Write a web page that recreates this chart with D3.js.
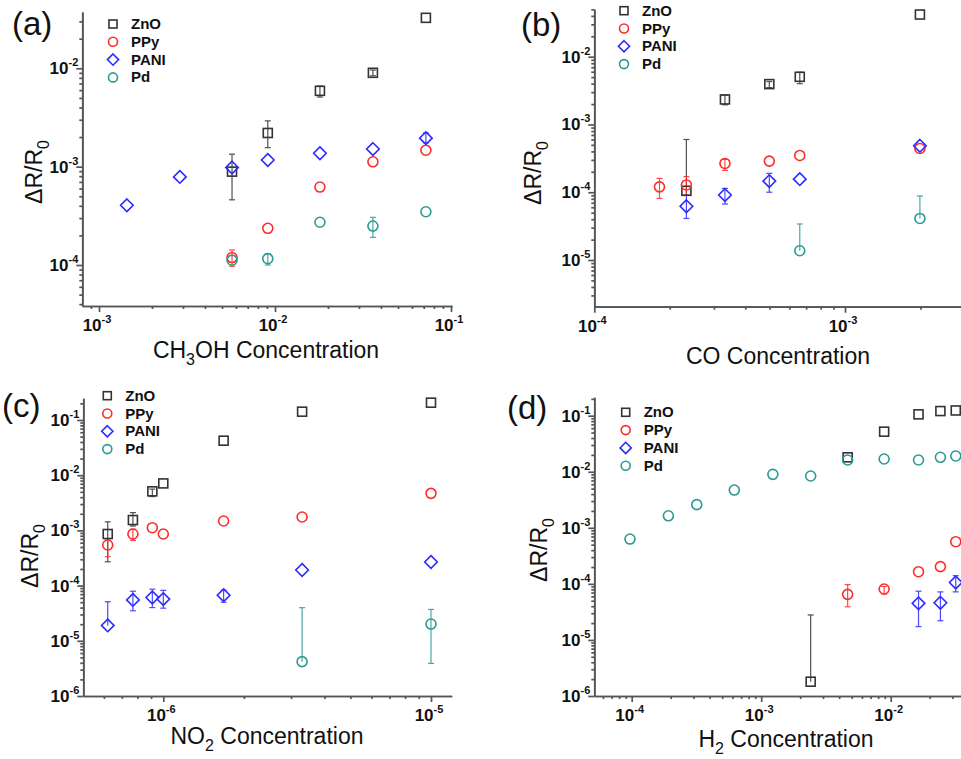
<!DOCTYPE html>
<html>
<head>
<meta charset="utf-8">
<script src="https://cdn.jsdelivr.net/npm/d3@7"></script>
<style>
  body { margin: 0; background: #fff; }
  svg { display: block; }
  text { font-family: "Liberation Sans", Arial, sans-serif; fill: #111; }
</style>
</head>
<body>
<svg id="fig" width="961" height="759"></svg>
<script>
// ---- data (null = no point) ----
// (a) CH3OH
var concA = [0.00144, 0.00288, 0.0057, 0.0091, 0.018, 0.036, 0.072];
var znoA  = [null, null, 8.9e-4, 2.2e-3, 5.9e-3, 9.0e-3, 0.0326];
var znoA_err = [null, null, [4.6e-4, 1.34e-3], [1.56e-3, 2.92e-3], [5.1e-3, 6.6e-3], [8.4e-3, 9.6e-3], null];
var ppyA  = [null, null, 1.19e-4, 2.36e-4, 6.2e-4, 1.12e-3, 1.47e-3];
var ppyA_err = [null, null, [9.7e-5, 1.42e-4], null, null, null, null];
var paniA = [4.05e-4, 7.86e-4, 9.8e-4, 1.17e-3, 1.37e-3, 1.51e-3, 1.95e-3];
var paniA_err = [null, null, null, null, null, null, [1.75e-3, 2.2e-3]];
var pdA   = [null, null, 1.12e-4, 1.16e-4, 2.72e-4, 2.49e-4, 3.48e-4];
var pdA_err = [null, null, null, [1.0e-4, 1.3e-4], null, [1.91e-4, 3.05e-4], null];

// (b) CO
var concB = [1.82e-4, 2.33e-4, 3.32e-4, 4.99e-4, 6.6e-4, 1.99e-3];
var znoB  = [null, 1.05e-4, 2.34e-3, 3.94e-3, 5.05e-3, 0.0419];
var znoB_err = [null, [9e-5, 6.0e-4], [1.95e-3, 2.7e-3], [3.5e-3, 4.3e-3], [4.0e-3, 5.9e-3], null];
var ppyB  = [1.2e-4, 1.28e-4, 2.66e-4, 2.88e-4, 3.49e-4, 4.43e-4];
var ppyB_err = [[8.1e-5, 1.6e-4], [9e-5, 1.7e-4], [2.1e-4, 3.05e-4], null, null, null];
var paniB = [null, 6.2e-5, 9.1e-5, 1.46e-4, 1.56e-4, 4.85e-4];
var paniB_err = [null, [4.1e-5, 9e-5], [6.7e-5, 1.14e-4], [1.0e-4, 1.9e-4], null, null];
var pdB   = [null, null, null, null, 1.37e-5, 4.1e-5];
var pdB_err = [null, null, null, null, [1.37e-5, 3.4e-5], [4.1e-5, 8.8e-5]];

// (c) NO2
var concC = [6.2e-7, 7.7e-7, 9.1e-7, 1.0e-6, 1.68e-6, 3.3e-6, 1.0e-5];
var znoC  = [8.6e-4, 1.54e-3, 5.1e-3, 7.1e-3, 0.0422, 0.1415, 0.206];
var znoC_err = [[2.7e-4, 1.43e-3], [1.2e-3, 2.1e-3], [4.1e-3, 5.6e-3], null, null, null, null];
var ppyC  = [5.44e-4, 8.6e-4, 1.12e-3, 8.6e-4, 1.48e-3, 1.75e-3, 4.69e-3];
var ppyC_err = [[3.34e-4, 7e-4], [6.6e-4, 1.05e-3], null, null, null, null, null];
var paniC = [1.9e-5, 5.5e-5, 6.1e-5, 5.7e-5, 6.7e-5, 1.92e-4, 2.68e-4];
var paniC_err = [[1.9e-5, 5.1e-5], [3.5e-5, 7.9e-5], [4.0e-5, 8.6e-5], [3.9e-5, 8.2e-5], [5.0e-5, 8.2e-5], null, null];
var pdC   = [null, null, null, null, null, 4.19e-6, 2.01e-5];
var pdC_err = [null, null, null, null, null, [4.19e-6, 3.98e-5], [3.9e-6, 3.7e-5]];

// (d) H2
var concD = [9.7e-5, 1.92e-4, 3.18e-4, 6.2e-4, 1.23e-3, 2.41e-3, 4.65e-3, 8.9e-3, 0.0164, 0.0242, 0.0318];
var znoD  = [null, null, null, null, null, 1.8e-6, 0.0181, 0.0519, 0.1057, 0.121, 0.124];
var znoD_err = [null, null, null, null, null, [1.8e-6, 2.79e-5], null, null, null, null, null];
var ppyD  = [null, null, null, null, null, null, 6.5e-5, 8.1e-5, 1.65e-4, 2.03e-4, 5.66e-4];
var ppyD_err = [null, null, null, null, null, null, [3.9e-5, 9.7e-5], [6.6e-5, 9.0e-5], null, null, null];
var paniD = [null, null, null, null, null, null, null, null, 4.5e-5, 4.6e-5, 1.06e-4];
var paniD_err = [null, null, null, null, null, null, null, null, [1.73e-5, 7.4e-5], [2.2e-5, 7.2e-5], [7.2e-5, 1.4e-4]];
var pdD   = [6.3e-4, 1.64e-3, 2.59e-3, 4.72e-3, 9.0e-3, 8.4e-3, 0.0162, 0.0169, 0.0162, 0.0181, 0.0191];

var seriesNames = ["ZnO", "PPy", "PANI", "Pd"];
var colors = {ZnO: "#333333", PPy: "#ff2b2b", PANI: "#2b2bff", Pd: "#2a9a94"};

var svg = d3.select("#fig");

// log scale pinned by two decade positions, then stretched to the axis ends
function logScale(v1, p1, v2, p2, pMin, pMax) {
  var s = d3.scaleLog().domain([v1, v2]).range([p1, p2]);
  return d3.scaleLog().domain([s.invert(pMin), s.invert(pMax)]).range([pMin, pMax]);
}

function tickSets(scale) {
  var d = scale.domain(), lo = Math.min(d[0], d[1]), hi = Math.max(d[0], d[1]);
  var major = [], minor = [];
  for (var e = Math.floor(Math.log10(lo)); e <= Math.ceil(Math.log10(hi)); e++) {
    for (var k = 1; k <= 9; k++) {
      var v = k * Math.pow(10, e);
      if (v < lo * 0.999 || v > hi * 1.001) continue;
      if (k == 1) major.push(v); else minor.push(v);
    }
  }
  return {major: major, minor: minor};
}

function drawSym(g, name, cx, cy, s) {
  var c = colors[name];
  if (name == "ZnO") {
    g.append("rect").attr("x", cx - s / 2).attr("y", cy - s / 2)
      .attr("width", s).attr("height", s)
      .attr("fill", "none").attr("stroke", c).attr("stroke-width", 1.6);
  } else if (name == "PANI") {
    var h = s * 0.7;
    g.append("path")
      .attr("d", "M" + cx + "," + (cy - h) + "L" + (cx + h) + "," + cy + "L" + cx + "," + (cy + h) + "L" + (cx - h) + "," + cy + "Z")
      .attr("fill", "none").attr("stroke", c).attr("stroke-width", 1.6);
  } else {
    g.append("circle").attr("cx", cx).attr("cy", cy).attr("r", s / 2 + 0.5)
      .attr("fill", "none").attr("stroke", c).attr("stroke-width", 1.6);
  }
}

function panel(p) {
  var g = svg.append("g");
  var x = logScale(p.xa[0], p.xa[1], p.xa[2], p.xa[3], p.xr[0], p.xr[1]);
  var y = logScale(p.ya[0], p.ya[1], p.ya[2], p.ya[3], p.yr[1], p.yr[0]);
  var x0 = p.xr[0], y0 = p.yr[1];

  var xt = tickSets(x), yt = tickSets(y);

  // axes: minor ticks, then major ticks with the axis line
  function styleAxis(sel) {
    sel.selectAll("path, line").attr("stroke", "#555").attr("stroke-width", 1.7);
  }
  g.append("g").attr("transform", "translate(0," + y0 + ")")
    .call(d3.axisBottom(x).tickValues(xt.minor).tickSize(3).tickSizeOuter(0).tickFormat(""))
    .call(styleAxis);
  g.append("g").attr("transform", "translate(0," + y0 + ")")
    .call(d3.axisBottom(x).tickValues(xt.major).tickSize(6).tickSizeOuter(0).tickFormat(""))
    .call(styleAxis);
  g.append("g").attr("transform", "translate(" + x0 + ",0)")
    .call(d3.axisLeft(y).tickValues(yt.minor).tickSize(3).tickSizeOuter(0).tickFormat(""))
    .call(styleAxis);
  g.append("g").attr("transform", "translate(" + x0 + ",0)")
    .call(d3.axisLeft(y).tickValues(yt.major).tickSize(6).tickSizeOuter(0).tickFormat(""))
    .call(styleAxis);

  // tick labels 10^n
  xt.major.forEach(function(v) {
    var t = g.append("text").attr("x", x(v) - 2).attr("y", y0 + 25)
      .attr("text-anchor", "middle").style("font-weight", "bold").style("font-size", "17px");
    t.append("tspan").text("10");
    t.append("tspan").attr("dy", -8).style("font-size", "11px").text(Math.round(Math.log10(v)));
  });
  yt.major.forEach(function(v) {
    var t = g.append("text").attr("x", x0 - 4).attr("y", y(v) + 6)
      .attr("text-anchor", "end").style("font-weight", "bold").style("font-size", "17px");
    t.append("tspan").text("10");
    t.append("tspan").attr("dy", -8).style("font-size", "11px").text(Math.round(Math.log10(v)));
  });

  // axis titles
  var xt1 = g.append("text").attr("x", p.xTitle[0]).attr("y", p.xTitle[1])
    .attr("text-anchor", "middle").style("font-size", "23px");
  xt1.append("tspan").text(p.xName[0]);
  if (p.xName[1]) {
    xt1.append("tspan").attr("dy", 7).style("font-size", "16px").text(p.xName[1]);
    xt1.append("tspan").attr("dy", -7).text(p.xName[2]);
  }
  var yl = g.append("text")
    .attr("transform", "translate(" + p.yTitle[0] + "," + p.yTitle[1] + ") rotate(-90)")
    .attr("text-anchor", "middle").style("font-size", "23px");
  yl.append("tspan").text("\u0394R/R");
  yl.append("tspan").attr("dy", 7).style("font-size", "16px").text("0");

  // panel tag
  g.append("text").attr("x", p.tag[0]).attr("y", p.tag[1])
    .style("font-size", "33px").text(p.tagText);

  // error bars first, then markers
  var marks = g.append("g");
  seriesNames.forEach(function(name, si) {
    var vals = p.series[si], errs = p.errors[si];
    var c = colors[name];
    p.conc.forEach(function(cv, i) {
      if (vals[i] == null || !errs || !errs[i]) return;
      var px = x(cv), e = errs[i];
      var eg = marks.append("g").attr("stroke", c).attr("stroke-width", 1.2).attr("opacity", 0.85);
      eg.append("line").attr("x1", px).attr("x2", px).attr("y1", y(e[0])).attr("y2", y(e[1]));
      [e[0], e[1]].forEach(function(ev) {
        if (ev == vals[i]) return;
        eg.append("line").attr("x1", px - 3).attr("x2", px + 3).attr("y1", y(ev)).attr("y2", y(ev));
      });
    });
  });
  seriesNames.forEach(function(name, si) {
    var vals = p.series[si];
    p.conc.forEach(function(cv, i) {
      if (vals[i] == null) return;
      drawSym(marks, name, x(cv), y(vals[i]), 9);
    });
  });

  // legend
  seriesNames.forEach(function(name, i) {
    var ly = p.legend[1] + i * 17.8;
    drawSym(g, name, p.legend[0], ly, 8);
    g.append("text").attr("x", p.legend[0] + 18).attr("y", ly + 5)
      .style("font-weight", "bold").style("font-size", "15px").text(name);
  });
}

panel({
  conc: concA, series: [znoA, ppyA, paniA, pdA], errors: [znoA_err, ppyA_err, paniA_err, pdA_err],
  xa: [1e-3, 99, 1e-1, 451], xr: [82.3, 452],
  ya: [1e-2, 68.3, 1e-4, 265], yr: [12, 306],
  xName: ["CH", "3", "OH Concentration"], xTitle: [266, 358],
  yTitle: [42, 172], tag: [12, 35], tagText: "(a)", legend: [113, 24]
});
panel({
  conc: concB, series: [znoB, ppyB, paniB, pdB], errors: [znoB_err, ppyB_err, paniB_err, pdB_err],
  xa: [1e-4, 594.3, 1e-3, 845], xr: [594.3, 961],
  ya: [1e-2, 56.7, 1e-5, 260], yr: [9.3, 306.7],
  xName: ["CO Concentration"], xTitle: [778, 364],
  yTitle: [541, 173], tag: [521, 36], tagText: "(b)", legend: [624, 10.7]
});
panel({
  conc: concC, series: [znoC, ppyC, paniC, pdC], errors: [znoC_err, ppyC_err, paniC_err, pdC_err],
  xa: [1e-6, 163.3, 1e-5, 431], xr: [83.3, 451.7],
  ya: [1e-1, 420, 1e-6, 696], yr: [398.3, 696],
  xName: ["NO", "2", " Concentration"], xTitle: [267, 744],
  yTitle: [38, 556], tag: [2, 417], tagText: "(c)", legend: [107.3, 395.7]
});
panel({
  conc: concD, series: [znoD, ppyD, paniD, pdD], errors: [znoD_err, ppyD_err, paniD_err, null],
  xa: [1e-4, 631.7, 1e-2, 890.7], xr: [594.3, 961],
  ya: [1e-1, 415.7, 1e-6, 696], yr: [397.3, 696],
  xName: ["H", "2", " Concentration"], xTitle: [786, 747],
  yTitle: [547, 550], tag: [507, 419], tagText: "(d)", legend: [625.7, 412.3]
});
</script>
</body>
</html>
